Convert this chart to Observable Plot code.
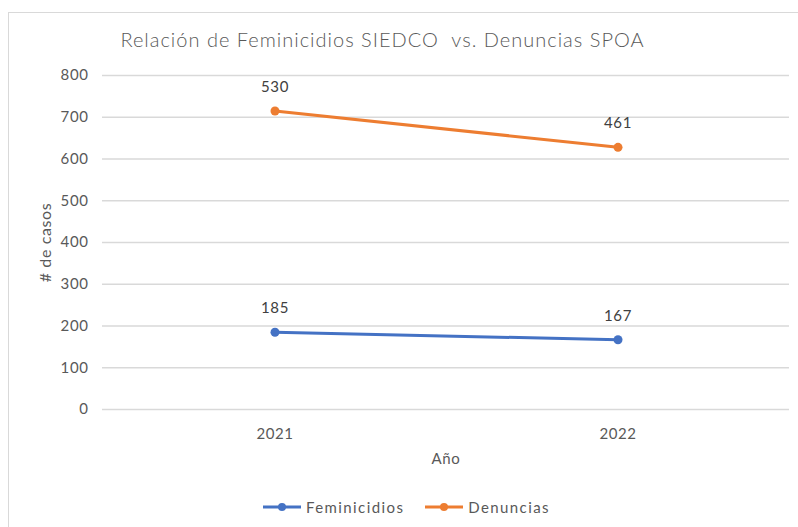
<!DOCTYPE html>
<html>
<head>
<meta charset="utf-8">
<script src="https://cdn.jsdelivr.net/npm/d3@7"></script>
<script src="https://cdn.jsdelivr.net/npm/@observablehq/plot@0.6"></script>
<style>
  html, body { margin: 0; padding: 0; background: #fff; width: 798px; height: 527px; overflow: hidden; }
  body { font-family: Lato, "Open Sans", sans-serif; color: #595959; position: relative; }
  #frame { position: absolute; left: 8px; top: 12px; width: 820px; height: 540px; border: 1px solid #d9d9d9; box-sizing: border-box; }
  #title { position: absolute; left: 0; top: 27px; width: 765px; text-align: center; font-size: 20px; font-weight: 300; color: #595959; letter-spacing: 1px; }
  #chart { position: absolute; left: 0; top: 60px; }
  #legend { position: absolute; left: 0; top: 498px; width: 812px; text-align: center; font-size: 15px; color: #595959; letter-spacing: 1.4px; }
  .lg { display: inline-flex; align-items: center; margin: 0 10px; }
  .lg svg { margin-right: 4px; }
</style>
</head>
<body>
<div id="frame"></div>
<div id="title">Relación de Feminicidios SIEDCO&nbsp; vs. Denuncias SPOA</div>
<div id="chart"></div>
<div id="legend"></div>
<script>
const years = ["2021", "2022"];
const seriesNames = ["Feminicidios", "Denuncias"];
const feminicidios = [185, 167];
const denuncias = [530, 461];
const yTicks = [0, 100, 200, 300, 400, 500, 600, 700, 800];
const colors = ["#4472C4", "#ED7D31"];

const rows = [];
years.forEach((yr, i) => rows.push({ year: yr, series: seriesNames[0], value: feminicidios[i] }));
years.forEach((yr, i) => rows.push({ year: yr, series: seriesNames[1], value: denuncias[i] }));

const stackOpts = { x: "year", y: "value", z: "series", order: null };

const chart = Plot.plot({
  width: 798,
  height: 415,
  marginTop: 15,
  marginBottom: 66,
  marginLeft: 102,
  marginRight: 9,
  style: { fontFamily: "Lato, 'Open Sans', sans-serif", fontSize: "15px", color: "#595959", background: "transparent", letterSpacing: "0.6px" },
  x: { type: "band", domain: years, padding: 0 },
  y: { domain: [0, 800] },
  color: { domain: seriesNames, range: colors },
  marks: [
    Plot.gridY(yTicks, { stroke: "#d9d9d9", strokeOpacity: 1, strokeWidth: 1.3 }),
    Plot.axisY({ ticks: yTicks, tickSize: 0, tickPadding: 14, label: null, fill: "#595959" }),
    Plot.text(["# de casos"], { frameAnchor: "left", textAnchor: "middle", dx: -57, rotate: -90, fill: "#595959", fontSize: 16, style: "letter-spacing: 1.5px" }),
    Plot.axisX({ tickSize: 0, tickPadding: 19, label: null, fill: "#595959" }),
    Plot.text(["Año"], { frameAnchor: "bottom", dy: 54, fill: "#595959", fontSize: 15 }),
    Plot.lineY(rows, Plot.stackY2({ ...stackOpts, stroke: "series", strokeWidth: 3 })),
    Plot.dot(rows, Plot.stackY2({ ...stackOpts, fill: "series", r: 4.5, stroke: null })),
    Plot.text(rows, Plot.stackY2({ ...stackOpts, text: (d) => String(d.value), dy: -24, fill: "#404040", fontSize: 15 }))
  ]
});
document.getElementById("chart").appendChild(chart);

const legend = document.getElementById("legend");
seriesNames.forEach((name, i) => {
  const span = document.createElement("span");
  span.className = "lg";
  span.innerHTML = `<svg width="40" height="12"><line x1="1" y1="6" x2="39" y2="6" stroke="${colors[i]}" stroke-width="3"/><circle cx="20" cy="6" r="4" fill="${colors[i]}"/></svg>${name}`;
  legend.appendChild(span);
});
</script>
</body>
</html>
